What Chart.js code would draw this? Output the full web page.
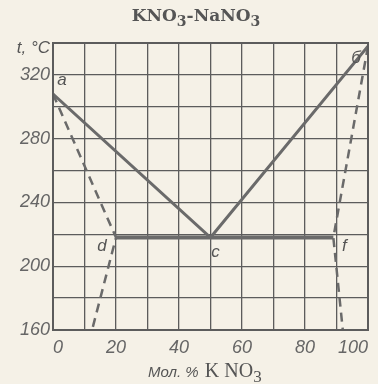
<!DOCTYPE html>
<html>
<head>
<meta charset="utf-8">
<script src="https://cdn.jsdelivr.net/npm/chart.js@4"></script>
<style>
  html, body { margin: 0; padding: 0; background: #f5f1e7; }
  #wrap { width: 378px; height: 384px; }
</style>
</head>
<body>
<div id="wrap"><canvas id="c" width="378" height="384"></canvas></div>
<script>
// ── data (mol % KNO3, °C) ──
const liquidus   = [[0, 308], [50, 218], [100, 338]];
const eutectic   = [[20, 218], [89, 218]];
const solidusL   = [[0, 308], [20, 218], [12.4, 160]];
const solidusR   = [[100, 338], [89, 218], [92, 160]];
const xTicks     = [0, 20, 40, 60, 80, 100];
const yTicks     = [160, 200, 240, 280, 320];
const pointNames = [['a', 0, 308], ['б', 100, 338], ['c', 50, 218], ['d', 20, 218], ['f', 89, 218]];

const INK  = '#6a6a6a';
const GRID = '#5c5c5c';
const pts  = arr => arr.map(([x, y]) => ({ x, y }));

// draws text runs; dy lowers a run like a subscript
function runs(ctx, parts, x, y) {
  let cx = x;
  parts.forEach(p => {
    ctx.font = p.font;
    ctx.fillText(p.t, cx, y + (p.dy || 0));
    cx += ctx.measureText(p.t).width + (p.gap || 0);
  });
}
function measureRuns(ctx, parts) {
  return parts.reduce((w, p) => { ctx.font = p.font; return w + ctx.measureText(p.t).width + (p.gap || 0); }, 0);
}

// custom text: title, axis titles, point letters
const textPlugin = {
  id: 'texts',
  afterDraw(chart) {
    const { ctx, scales: { x, y }, chartArea: a } = chart;
    ctx.save();
    ctx.fillStyle = '#555';
    ctx.textBaseline = 'alphabetic';
    ctx.textAlign = 'left';

    const big = "bold 17px 'DejaVu Serif', serif";
    const sub = "bold 14px 'DejaVu Serif', serif";
    const title = [
      { t: 'KNO', font: big }, { t: '3', font: sub, dy: 5 }, { t: '-NaNO', font: big }, { t: '3', font: sub, dy: 5 },
    ];
    runs(ctx, title, 196 - measureRuns(ctx, title) / 2, 21);

    const xt = [
      { t: 'Мол. % ', font: "italic 15px 'Liberation Sans', sans-serif", gap: 2 },
      { t: 'K NO', font: "20px 'Liberation Serif', serif" },
      { t: '3', font: "17px 'Liberation Serif', serif", dy: 5 },
    ];
    runs(ctx, xt, 148, 377);

    ctx.textBaseline = 'middle';
    ctx.font = "italic 17px 'Liberation Sans', sans-serif";
    ctx.textAlign = 'right';
    ctx.fillText('t, °C', a.left - 3, a.top + 5);

    const off = { a: [9, -14], 'б': [-12, 12], c: [5, 15], d: [-14, 9], f: [11, 9] };
    pointNames.forEach(([t, vx, vy]) => {
      ctx.textAlign = 'center';
      ctx.fillText(t, x.getPixelForValue(vx) + off[t][0], y.getPixelForValue(vy) + off[t][1]);
    });
    ctx.restore();
  },
};

const line = (data, extra) => Object.assign({
  data: pts(data),
  borderColor: INK,
  borderWidth: 3,
  pointRadius: 0,
  tension: 0,
  fill: false,
  showLine: true,
}, extra);

new Chart(document.getElementById('c'), {
  type: 'scatter',
  data: {
    datasets: [
      line(liquidus),
      line(eutectic, { borderWidth: 4 }),
      line(solidusL, { borderDash: [9, 6], borderWidth: 2.5 }),
      line(solidusR, { borderDash: [9, 6], borderWidth: 2.5 }),
    ],
  },
  options: {
    responsive: false,
    animation: false,
    layout: { padding: { top: 43, right: 10, bottom: 0, left: 0 } },
    plugins: { legend: { display: false }, tooltip: { enabled: false } },
    scales: {
      x: {
        type: 'linear', min: 0, max: 100,
        afterFit: s => { s.height = 54; s.paddingLeft = 0; s.paddingRight = 0; },
        afterBuildTicks: s => { s.ticks = Array.from({ length: 11 }, (_, i) => ({ value: i * 10 })); },
        grid: { color: GRID, lineWidth: 1.3, drawTicks: false },
        border: { color: GRID, width: 2 },
        ticks: {
          color: '#666', padding: 7, maxRotation: 0, autoSkip: false, align: 'inner',
          font: { family: "'Liberation Sans'", style: 'italic', size: 18 },
          callback: v => xTicks.includes(v) ? String(v) : '',
        },
      },
      y: {
        type: 'linear', min: 160, max: 340,
        afterFit: s => { s.width = 53; s.paddingTop = 0; s.paddingBottom = 0; },
        afterBuildTicks: s => { s.ticks = Array.from({ length: 10 }, (_, i) => ({ value: 160 + i * 20 })); },
        grid: { color: GRID, lineWidth: 1.3, drawTicks: false },
        border: { color: GRID, width: 2 },
        ticks: {
          color: '#666', padding: 3, autoSkip: false,
          font: { family: "'Liberation Sans'", style: 'italic', size: 18 },
          callback: v => yTicks.includes(v) ? String(v) : '',
        },
      },
    },
  },
  plugins: [textPlugin, {
    id: 'frame',
    afterDraw(chart) {
      const { ctx, chartArea: a } = chart;
      ctx.save();
      ctx.strokeStyle = GRID;
      ctx.lineWidth = 2;
      ctx.strokeRect(a.left, a.top, a.right - a.left, a.bottom - a.top);
      ctx.restore();
    },
  }],
});
</script>
</body>
</html>
